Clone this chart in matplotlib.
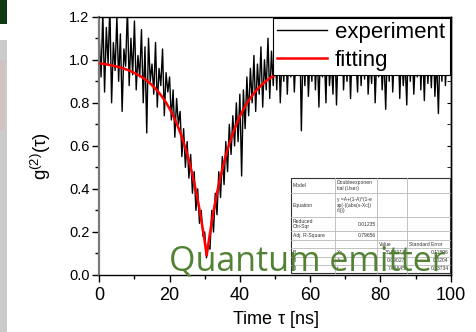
import numpy as np
import matplotlib
matplotlib.use("Agg")
import matplotlib.pyplot as plt
from matplotlib.patches import Rectangle
from matplotlib.lines import Line2D

plt.rcParams['font.family'] = ['Liberation Sans', 'DejaVu Sans']
plt.rcParams['mathtext.fontset'] = 'custom'
plt.rcParams['mathtext.rm'] = 'Liberation Sans'
plt.rcParams['mathtext.it'] = 'Liberation Sans'

# ---- data -------------------------------------------------------------
bin_width = 0.5  # ns
g2_experiment = [
    # 0 - 9.5 ns
    1.10, 0.92, 1.22, 0.85, 1.15, 0.98, 1.25, 0.80, 1.08, 0.95,
    1.20, 0.90, 1.12, 0.76, 1.05, 0.97, 1.24, 0.88, 1.10, 0.93,
    # 10 - 19.5 ns
    1.18, 0.86, 1.02, 0.92, 1.14, 0.80, 1.06, 0.66, 1.10, 0.90,
    0.98, 0.84, 1.08, 0.78, 0.96, 0.88, 1.05, 0.74, 0.94, 0.85,
    # 20 - 25.5 ns
    0.92, 0.72, 0.86, 0.64, 0.82, 0.70, 0.76, 0.55, 0.68, 0.50, 0.62, 0.45,
    # 26 - 29.5 ns
    0.56, 0.38, 0.48, 0.30, 0.40, 0.24, 0.30, 0.18,
    # 30 - 31.5 ns
    0.20, 0.08, 0.14, 0.12,
    # 32 - 35.5 ns
    0.30, 0.20, 0.38, 0.28, 0.48, 0.36, 0.55, 0.42,
    # 36 - 41.5 ns
    0.62, 0.48, 0.70, 0.56, 0.74, 0.60, 0.80, 0.62, 0.84, 0.46, 0.86, 0.68,
    # 42 - 49.5 ns
    0.92, 0.74, 0.96, 0.80, 1.02, 0.76, 0.98, 0.84,
    1.06, 0.78, 1.00, 0.86, 1.10, 0.82, 1.04, 0.88,
    # 50 - 99.5 ns
    1.08, 0.86, 1.12, 0.80, 1.02, 0.90, 1.15, 0.84, 1.06, 0.92,
    1.10, 0.85, 1.04, 0.95, 1.18, 0.67, 1.08, 0.88, 1.12, 0.83,
    1.02, 0.90, 1.14, 0.86, 1.06, 0.78, 1.10, 0.92, 1.04, 0.80,
    1.16, 0.88, 1.00, 0.84, 1.12, 0.79, 1.06, 0.94, 1.20, 0.86,
    1.04, 0.90, 1.10, 0.82, 1.08, 0.93, 1.02, 0.85, 1.14, 0.88,
    1.06, 0.91, 1.18, 0.84, 1.00, 0.89, 1.12, 0.80, 1.04, 0.92,
    1.10, 0.86, 1.02, 0.77, 1.08, 0.90, 1.16, 0.85, 1.04, 0.93,
    1.12, 0.82, 1.06, 0.88, 1.00, 0.79, 1.14, 0.90, 1.08, 0.84,
    1.02, 0.92, 1.18, 0.86, 1.06, 0.81, 1.10, 0.89, 1.04, 0.87,
    1.12, 0.83, 1.00, 0.75, 1.08, 0.90, 1.22, 0.88, 1.05, 0.95,
    # 100 ns
    1.10,
]

# fit parameters (from the result table)
fit_Xc = 30.56013
fit_A = 0.09027
fit_t = 7.61645
fit_errors = [0.11896, 0.0204, 0.23734]
reduced_chi_sqr = 0.01235
adj_r_square = 0.79656

x_ticks = [0, 20, 40, 60, 80, 100]
y_ticks = [0.0, 0.2, 0.4, 0.6, 0.8, 1.0, 1.2]

# ---- figure -----------------------------------------------------------
W, H = 477, 332
fig = plt.figure(figsize=(W / 100, H / 100), dpi=100)

def fx(px):
    return px / W

def fy(py):
    return 1 - py / H

# background photo remnants on the left edge
fig.add_artist(Rectangle((0, fy(332)), fx(7), fy(40) - fy(332),
                         transform=fig.transFigure, color='#cbcbcb', lw=0, zorder=0))
fig.add_artist(Rectangle((0, fy(24)), fx(7), fy(0) - fy(24),
                         transform=fig.transFigure, color='#0d3a12', lw=0, zorder=0))
fig.add_artist(Rectangle((0, fy(130)), fx(5), fy(60) - fy(130),
                         transform=fig.transFigure, color='#d9b8b8', lw=0, alpha=0.5, zorder=0))

ax_l, ax_r, ax_t, ax_b = 99.3, 450.7, 16.7, 275.0
ax = fig.add_axes([fx(ax_l), fy(ax_b), fx(ax_r) - fx(ax_l), fy(ax_t) - fy(ax_b)])

t = np.arange(len(g2_experiment)) * bin_width
ax.plot(t, g2_experiment, color='black', lw=1.0, label='experiment', zorder=2)

t_fit = np.linspace(0, 100, 2001)
g2_fit = fit_A + (1 - fit_A) * (1 - np.exp(-np.abs(t_fit - fit_Xc) / fit_t))
ax.plot(t_fit, g2_fit, color='#ff0000', lw=1.8, label='fitting', zorder=3)

ax.set_xlim(0, 100)
ax.set_ylim(0, 1.2)
ax.set_xticks(x_ticks)
ax.set_xticks([10, 30, 50, 70, 90], minor=True)
ax.set_yticks(y_ticks)
ax.set_yticks([0.1, 0.3, 0.5, 0.7, 0.9, 1.1], minor=True)
ax.set_xticklabels([str(v) for v in x_ticks], fontsize=13)
ax.set_yticklabels([f'{v:.1f}' for v in y_ticks], fontsize=10.5)
ax.tick_params(which='major', length=5, width=1, direction='out')
ax.tick_params(which='minor', length=3, width=1, direction='out')
ax.tick_params(axis='x', pad=4)
ax.tick_params(axis='y', pad=2)
ax.spines['left'].set_color('#7a7a7a')
ax.spines['left'].set_linewidth(1.6)
for s in ['top', 'right', 'bottom']:
    ax.spines[s].set_linewidth(1.0)

sec = ax.secondary_yaxis('right')
sec.set_yticks(y_ticks)
sec.set_yticks([0.1, 0.3, 0.5, 0.7, 0.9, 1.1], minor=True)
sec.tick_params(which='both', direction='in', length=3, labelright=False)
sec.spines['right'].set_linewidth(1.0)

ax.set_xlabel(r'Time $\mathregular{\tau}$ [ns]', fontsize=13)
ax.xaxis.set_label_coords((275 - ax_l) / (ax_r - ax_l), -(319 - ax_b) / (ax_b - ax_t))
ax.xaxis.label.set_va('center')
ax.set_ylabel(r'$\mathregular{g^{(2)}(\tau)}$', fontsize=13.5)
ax.yaxis.set_label_coords(-(ax_l - 41) / (ax_r - ax_l), (ax_b - 156) / (ax_b - ax_t))
ax.yaxis.label.set_va('center')

leg = ax.legend(loc='upper right', bbox_to_anchor=(1.0, 1.0), fontsize=16,
                frameon=True, fancybox=False, edgecolor='black', framealpha=1,
                borderpad=0.2, borderaxespad=0.05, handlelength=2.25,
                handletextpad=0.35, labelspacing=0.3)
leg.get_frame().set_linewidth(0.8)
leg.set_zorder(5)

# ---- result table -----------------------------------------------------
col_x = [291, 335, 377, 407, 450]
row_y = [178, 193, 217, 231, 240, 248, 257, 265, 273]
cells = [
    ['Model', 'Doubleexponen\ntial (User)', '', ''],
    ['Equation', 'y =A+(1-A)*(1-e\nxp(-((abs(x-Xc))\n/t)))', '', ''],
    ['Reduced\nChi-Sqr', f'{reduced_chi_sqr:.5f}', '', ''],
    ['Adj. R-Square', f'{adj_r_square:.5f}', '', ''],
    ['', '', 'Value', 'Standard Error'],
    ['B', 'Xc', f'{fit_Xc:.5f}', f'{fit_errors[0]:.5f}'],
    ['B', 'A', f'{fit_A:.5f}', f'{fit_errors[1]:.4f}'],
    ['B', 't', f'{fit_t:.5f}', f'{fit_errors[2]:.5f}'],
]
fig.add_artist(Rectangle((fx(col_x[0]), fy(row_y[-1])), fx(col_x[-1]) - fx(col_x[0]),
                         fy(row_y[0]) - fy(row_y[-1]), transform=fig.transFigure,
                         facecolor='white', edgecolor='#333333', lw=0.8, zorder=6))
for yy in row_y[1:-1]:
    fig.add_artist(Line2D([fx(col_x[0]), fx(col_x[-1])], [fy(yy), fy(yy)],
                          transform=fig.transFigure, color='#b8b8b8', lw=0.6, zorder=7))
for xx in col_x[1:-1]:
    fig.add_artist(Line2D([fx(xx), fx(xx)], [fy(row_y[0]), fy(row_y[-1])],
                          transform=fig.transFigure, color='#b8b8b8', lw=0.6, zorder=7))
for r, row in enumerate(cells):
    yc = (row_y[r] + row_y[r + 1]) / 2
    for c, txt in enumerate(row):
        if not txt:
            continue
        right_align = (r in (2, 3) and c == 1) or (r >= 5 and c >= 2)
        if right_align:
            xpos, ha = col_x[c + 1] - 1.5, 'right'
        elif r >= 5:
            xpos, ha = col_x[c] + 1.5, 'left'
        else:
            xpos, ha = col_x[c] + 2, 'left'
        fig.text(fx(xpos), fy(yc), txt, fontsize=3.6, ha=ha, va='center',
                 color='#333333', linespacing=1.1, zorder=8)

fig.text(fx(169), fy(271), 'Quantum emitter', fontsize=24.5, color='#548235',
         family=['Open Sans', 'DejaVu Sans'], ha='left', va='baseline', zorder=10)

fig.savefig('out.png', dpi=100)
